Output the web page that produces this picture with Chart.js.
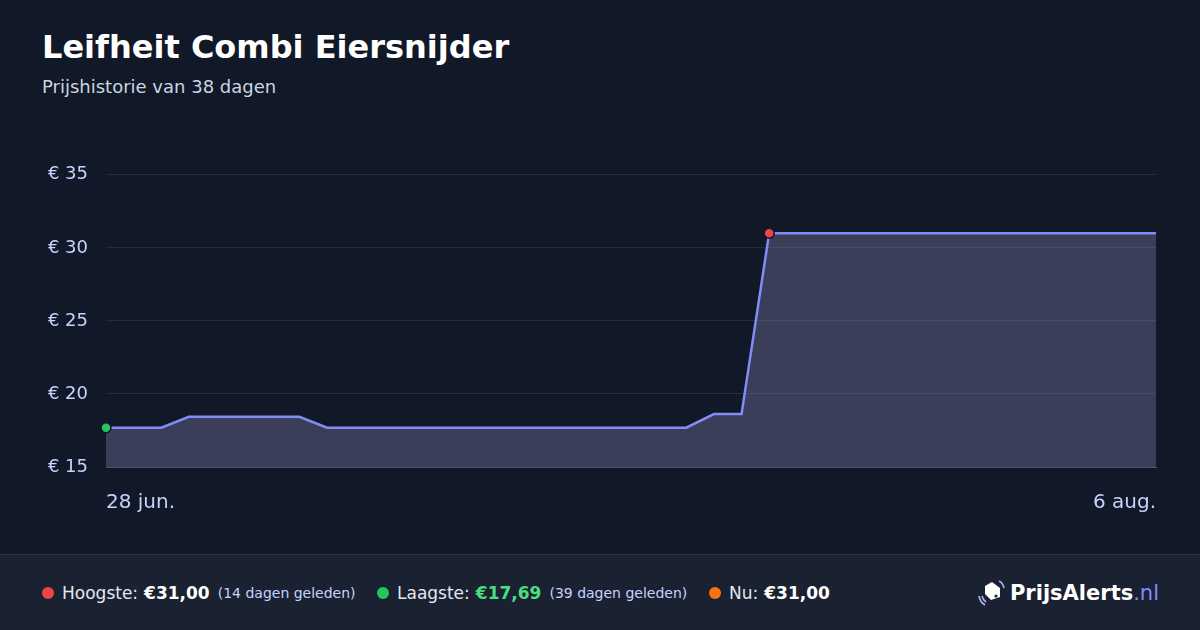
<!DOCTYPE html>
<html>
<head>
<meta charset="utf-8">
<script src="https://cdn.jsdelivr.net/npm/chart.js@4"></script>
<style>
  html,body{margin:0;padding:0;}
  body{width:1200px;height:630px;background:#111827;position:relative;overflow:hidden;font-family:"DejaVu Sans",sans-serif;}
  #title{position:absolute;left:42px;top:27px;margin:0;font-size:32px;font-weight:bold;color:#ffffff;line-height:40px;}
  #subtitle{position:absolute;left:42px;top:76px;font-size:18px;color:#cbd5e1;line-height:22px;}
  #wrap{position:absolute;left:0;top:146px;width:1200px;height:394px;}
  #footer{position:absolute;left:0;top:554px;width:1200px;height:76px;background:#1a2131;border-top:1px solid #2a3352;}
  .item{position:absolute;top:0;height:76px;display:flex;align-items:center;font-size:17px;color:#e2e8f0;white-space:nowrap;}
  .dot{width:12px;height:12px;border-radius:50%;display:inline-block;margin-right:8px;}
  .val{font-weight:bold;color:#ffffff;margin-left:6px;}
  .ago{font-size:14px;color:#c7d2fe;margin-left:8px;}
  #logo{position:absolute;right:41px;top:0;height:76px;display:flex;align-items:center;font-size:21px;}
</style>
</head>
<body>
<h1 id="title">Leifheit Combi Eiersnijder</h1>
<div id="subtitle">Prijshistorie van 38 dagen</div>
<div id="wrap"><canvas id="c"></canvas></div>
<div id="footer">
  <div class="item" style="left:42px"><span class="dot" style="background:#ef4444"></span>Hoogste:<span class="val">€31,00</span><span class="ago">(14 dagen geleden)</span></div>
  <div class="item" style="left:377px"><span class="dot" style="background:#22c55e"></span>Laagste:<span class="val" style="color:#4ade80">€17,69</span><span class="ago">(39 dagen geleden)</span></div>
  <div class="item" style="left:709px"><span class="dot" style="background:#f97316"></span>Nu:<span class="val">€31,00</span></div>
  <div id="logo">
    <svg width="30" height="30" viewBox="0 0 30 30" style="margin-right:4px">
      <path d="M9 8 L16 4 L24 10 L24 19 L15 22 L9 16 Z" fill="#ffffff"/>
      <circle cx="20" cy="18" r="1.6" fill="#1a2131"/>
      <path d="M3 18 Q4 24 9 27" stroke="#a5b4fc" stroke-width="1.6" fill="none"/>
      <path d="M6 18 Q7 22 10 24" stroke="#a5b4fc" stroke-width="1.6" fill="none"/>
      <path d="M23 3 Q27 5 28 10" stroke="#a5b4fc" stroke-width="1.6" fill="none"/>
    </svg>
    <span style="font-weight:bold;color:#ffffff">PrijsAlerts</span><span style="color:#818cf8">.nl</span>
  </div>
</div>
<script>
const dates = ["28 jun.","29 jun.","30 jun.","1 jul.","2 jul.","3 jul.","4 jul.","5 jul.","6 jul.","7 jul.",
  "8 jul.","9 jul.","10 jul.","11 jul.","12 jul.","13 jul.","14 jul.","15 jul.","16 jul.","17 jul.",
  "18 jul.","19 jul.","20 jul.","21 jul.","23 jul.","24 jul.","25 jul.","26 jul.","27 jul.","28 jul.",
  "29 jul.","30 jul.","31 jul.","1 aug.","2 aug.","3 aug.","4 aug.","5 aug.","6 aug."];
const prices = [17.69,17.69,17.69,18.44,18.44,18.44,18.44,18.44,17.69,17.69,
  17.69,17.69,17.69,17.69,17.69,17.69,17.69,17.69,17.69,17.69,
  17.69,17.69,18.62,18.62,31.00,31.00,31.00,31.00,31.00,31.00,
  31.00,31.00,31.00,31.00,31.00,31.00,31.00,31.00,31.00];
const yTicks = [15,20,25,30,35];
const lowIndex = 0;
const highIndex = 24;

const ptRadius = prices.map((v,i)=> (i===lowIndex||i===highIndex)?5:0);
const ptColor = prices.map((v,i)=> i===highIndex?'#ef4444':'#22c55e');

new Chart(document.getElementById('c'), {
  type:'line',
  data:{labels:dates,datasets:[{
    data:prices,
    borderColor:'#818cf8',
    borderWidth:2.5,
    backgroundColor:'rgba(154,151,202,0.3)',
    fill:'start',
    tension:0,
    pointRadius:ptRadius,
    pointHoverRadius:ptRadius,
    pointBackgroundColor:ptColor,
    pointBorderColor:'#111827',
    pointBorderWidth:1.5
  }]},
  options:{
    responsive:true,maintainAspectRatio:false,animation:false,
    layout:{padding:{left:0,right:44,top:10,bottom:0}},
    plugins:{legend:{display:false},tooltip:{enabled:false}},
    scales:{
      x:{
        grid:{display:false,drawTicks:false},
        border:{display:true,color:'#4b5563',width:1},
        afterFit:(s)=>{s.height=73;},
        ticks:{
          autoSkip:false,maxRotation:0,align:'inner',padding:24,
          color:'#c7d2fe',font:{family:'DejaVu Sans',size:20},
          callback:function(v,i){return (i===0||i===dates.length-1)?dates[i]:'';}
        }
      },
      y:{
        min:yTicks[0],max:yTicks[yTicks.length-1],
        afterBuildTicks:(s)=>{s.ticks=yTicks.map(v=>({value:v}));},
        afterFit:(s)=>{s.width=106;},
        grid:{color:'#252c3d',drawTicks:false,lineWidth:1},
        border:{display:false},
        ticks:{padding:18,color:'#c7d2fe',font:{family:'DejaVu Sans',size:18},
          callback:(v)=>'€ '+v}
      }
    }
  }
});
</script>
</body>
</html>
